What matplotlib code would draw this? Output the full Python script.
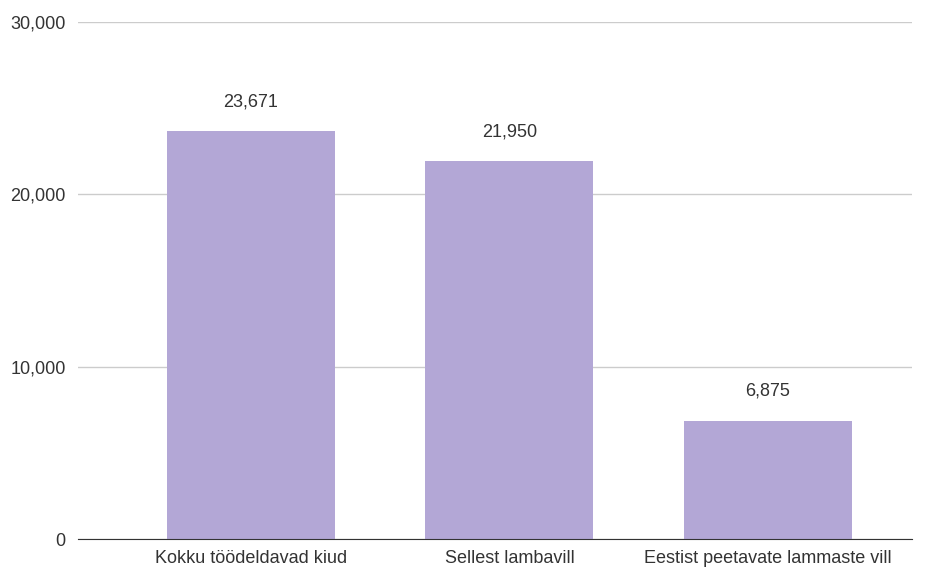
import matplotlib.pyplot as plt

categories = ['Kokku töödeldavad kiud', 'Sellest lambavill', 'Eestist peetavate lammaste vill']
values = [23671, 21950, 6875]
yticks = [0, 10000, 20000, 30000]

BAR_COLOR = '#b3a7d6'

plt.rcParams['font.family'] = ['Liberation Sans', 'DejaVu Sans']

fig = plt.figure(figsize=(9.33, 5.67), dpi=100)
ax = fig.add_axes([78 / 933, 28 / 567, 834 / 933, 517 / 567])

x = list(range(len(categories)))
ax.bar(x, values, width=0.65, color=BAR_COLOR, zorder=2)
for xi, v in zip(x, values):
    ax.annotate(f'{v:,}', (xi, v), xytext=(0, 21), textcoords='offset points',
                ha='center', va='center', fontsize=13, color='#333333')

ax.set_xlim(-0.669, 2.557)
ax.set_ylim(0, 30000)
ax.set_yticks(yticks)
ax.set_yticklabels([f'{t:,}' for t in yticks])
ax.set_xticks(x)
ax.set_xticklabels(categories)
ax.tick_params(axis='both', length=0, labelsize=13, colors='#333333')
ax.tick_params(axis='y', pad=9)
ax.tick_params(axis='x', pad=8)
ax.grid(axis='y', color='#cccccc', linewidth=1, zorder=0)
for s in ['top', 'right', 'left']:
    ax.spines[s].set_visible(False)
ax.spines['bottom'].set_color('#333333')
ax.spines['bottom'].set_zorder(3)

fig.savefig('out.png', dpi=100)
